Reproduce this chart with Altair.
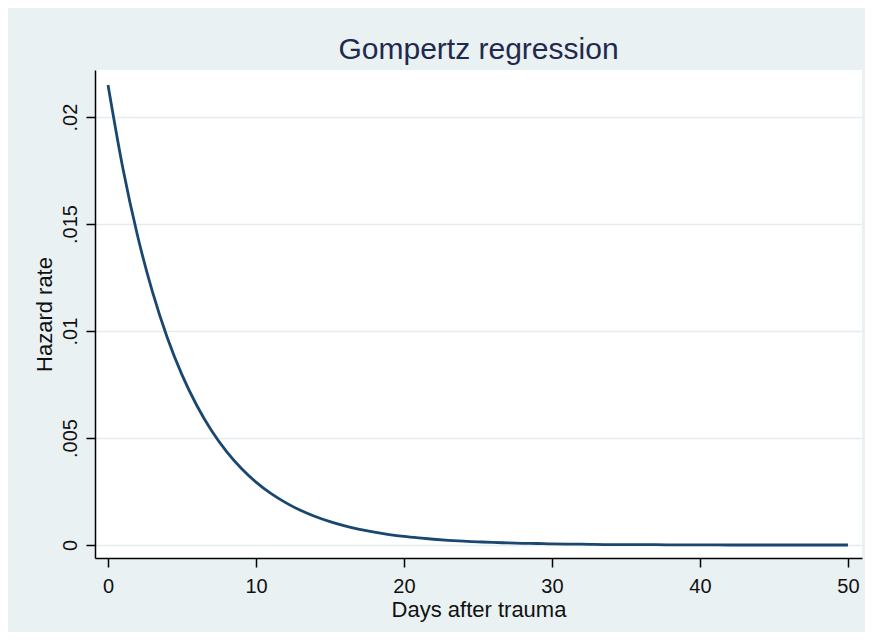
import altair as alt
import pandas as pd

# Values (hazard rate by days after trauma)
days = [0, 1, 2, 3, 4, 5, 6, 7, 8, 9, 10, 11, 12, 13, 14, 15, 16, 17, 18, 19, 20,
        21, 22, 23, 24, 25, 26, 27, 28, 29, 30, 32, 34, 36, 38, 40, 42, 44, 46, 48, 50]
hazard = [0.02150, 0.01762, 0.01444, 0.01184, 0.00970, 0.00795, 0.00652, 0.00534,
          0.00438, 0.00359, 0.00294, 0.00241, 0.00198, 0.00162, 0.00133, 0.00109,
          0.00089, 0.00073, 0.00060, 0.00049, 0.00040, 0.00033, 0.00027, 0.00022,
          0.00018, 0.00015, 0.00012, 0.00010, 0.00008, 0.00007, 0.00005, 0.00004,
          0.00002, 0.00002, 0.00001, 0.00001, 0.00000, 0.00000, 0.00000, 0.00000,
          0.00000]
x_ticks = [0, 10, 20, 30, 40, 50]
y_ticks = [0, 0.005, 0.01, 0.015, 0.02]

df = pd.DataFrame({"day": days, "hazard": hazard})

label_expr = ("datum.value == 0 ? '0' : replace(format(datum.value, '.3~f'), /^0/, '')")

FONT = "Liberation Sans"

chart = alt.Chart(df).mark_line(
    color="#1a476f", strokeWidth=2.8, interpolate="monotone"
).encode(
    x=alt.X("day:Q",
            scale=alt.Scale(domain=[-0.88, 50.95], nice=False, zero=False),
            axis=alt.Axis(values=x_ticks, title="Days after trauma", grid=False,
                          domainColor="#000000", domainWidth=1.5,
                          tickColor="#000000", tickSize=9, tickWidth=1.5,
                          labelFont=FONT, labelFontSize=20, labelColor="#111111",
                          labelPadding=9, titleFont=FONT, titleFontSize=22,
                          titleFontWeight="normal", titleColor="#111111",
                          titlePadding=3)),
    y=alt.Y("hazard:Q",
            scale=alt.Scale(domain=[-0.000607, 0.0222], nice=False, zero=False),
            axis=alt.Axis(values=y_ticks, title="Hazard rate", grid=True,
                          gridColor="#e4ecef", gridWidth=1.5,
                          labelExpr=label_expr, labelAngle=-90,
                          labelAlign="center", labelBaseline="bottom",
                          domainColor="#000000", domainWidth=1.5,
                          tickColor="#000000", tickSize=9, tickWidth=1.5,
                          labelFont=FONT, labelFontSize=20, labelColor="#111111",
                          labelPadding=6, titleFont=FONT, titleFontSize=22,
                          titleFontWeight="normal", titleColor="#111111",
                          titlePadding=4)),
).properties(
    width=767,
    height=488,
    title=alt.TitleParams("Gompertz regression", font=FONT, fontSize=30,
                          fontWeight="normal", color="#1f2a4d",
                          anchor="middle", offset=5),
    background="#eaf1f3",
    padding={"left": 87, "top": 62, "right": 3, "bottom": 74},
    autosize=alt.AutoSizeParams(type="none"),
).configure_view(
    fill="#ffffff", stroke=None
)

chart.save("out.html", embed_options={"renderer": "svg", "actions": False})
